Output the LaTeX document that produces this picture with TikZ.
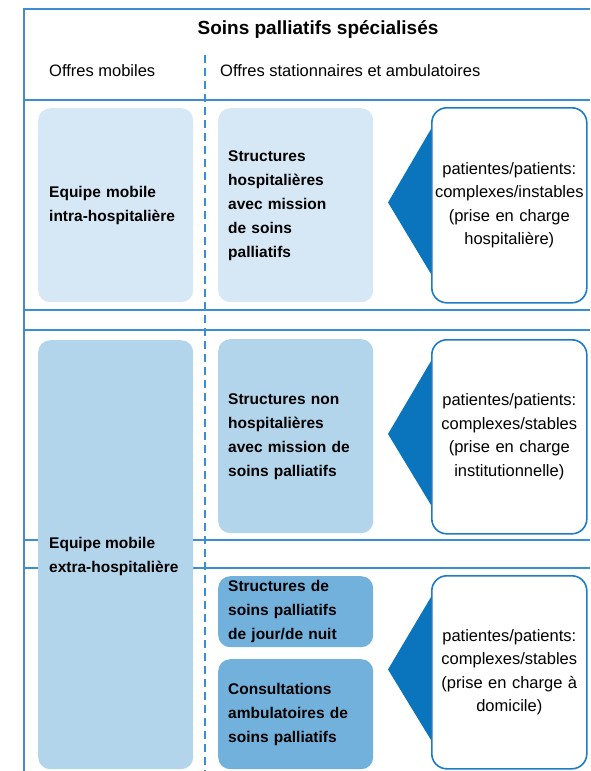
\documentclass[tikz,border=0pt]{standalone}
\usepackage{fontspec}
\setmainfont{Liberation Sans}
\usepackage{xcolor}
\usetikzlibrary{calc}
\definecolor{lineblue}{HTML}{3B8ED3}
\definecolor{sideblue}{HTML}{4F86C6}
\definecolor{paleblue}{HTML}{D6E8F5}
\definecolor{midblue}{HTML}{B3D5EB}
\definecolor{deepblue}{HTML}{72B1DC}
\definecolor{darkblue}{HTML}{0A74BC}
\definecolor{edgeblue}{HTML}{1E7CC4}

\begin{document}
\begin{tikzpicture}[x=1pt,y=-1pt]
  \tikzset{rule/.style = {draw=lineblue, line width=2pt}}
  \tikzset{offer/.style = {rounded corners=12pt, anchor=north west, inner xsep=10pt, inner ysep=0pt,
      text width=135pt, align=left, font=\bfseries\fontsize{15.5}{24}\selectfont}}
  \tikzset{patient/.style = {draw=edgeblue, line width=1.6pt, fill=white, rounded corners=15pt,
      anchor=north west, minimum width=155pt, inner xsep=3pt, text width=149pt, align=center,
      font=\fontsize{16.5}{23.5}\selectfont}}
  \tikzset{wedge/.style = {fill=darkblue}}
  \useasboundingbox (0,0) rectangle (590,771);

  % frame
  \draw[draw=sideblue, line width=2pt] (24,8) -- (24,771);
  \draw[rule] (23,9) -- (590,9);
  \foreach \y in {100,310,330,540,568}
  {
    \draw[rule] (24,\y) -- (590,\y);
  }
  \draw[rule, dash pattern=on 8pt off 5pt] (205,55) -- (205,771);

  % header
  \node (title) at (318,30) {\bfseries\fontsize{19}{23}\selectfont Soins palliatifs spécialisés};
  \node[anchor=west, inner sep=0pt, font=\fontsize{16.5}{20}\selectfont] (mobile) at (49,71) {Offres mobiles};
  \node[anchor=west, inner sep=0pt, font=\fontsize{16.5}{20}\selectfont] (station) at (220,71) {Offres stationnaires et ambulatoires};

  % offers
  \node[offer, fill=paleblue, inner xsep=11pt, text width=133pt, minimum height=194pt] (intra) at (38,108)
    {Equipe mobile\\intra-hospitalière};
  \node[offer, fill=midblue, minimum height=429pt] (extra) at (38,340) {};
  \node[anchor=west, inner sep=0pt, align=left, font=\bfseries\fontsize{15.5}{24}\selectfont] (extratxt) at (49,556)
    {Equipe mobile\\extra-hospitalière};
  \node[offer, fill=paleblue, minimum height=194pt] (hosp) at (218,108)
    {Structures\\hospitalières\\avec mission\\de soins\\palliatifs};
  \node[offer, fill=midblue, minimum height=194pt] (nonhosp) at (218,339)
    {Structures non\\hospitalières\\avec mission de\\soins palliatifs};
  \node[offer, fill=deepblue, minimum height=71pt] (jour) at (218,576)
    {Structures de\\soins palliatifs\\de jour/de nuit};
  \node[offer, fill=deepblue, minimum height=110pt] (consult) at (218,659)
    {Consultations\\ambulatoires de\\soins palliatifs};

  % patients
  \foreach \n/\y/\h in {unstable/107/195, institut/339/194, home/575/193}
  {
    \coordinate (\n) at (431,\y);
    \fill[wedge] ($(\n)+(0,22)$) -- ($(\n)+(-43,\h/2-2)$) -- ($(\n)+(0,\h-28)$) -- cycle;
  }
  \node[patient, minimum height=195pt] (unstablebox) at (unstable)
    {patientes/patients:\\complexes/instables\\(prise en charge\\hospitalière)};
  \node[patient, minimum height=194pt] (institutbox) at (institut)
    {patientes/patients:\\complexes/stables\\(prise en charge\\institutionnelle)};
  \node[patient, minimum height=193pt] (homebox) at (home)
    {patientes/patients:\\complexes/stables\\(prise en charge à\\domicile)};
\end{tikzpicture}
\end{document}
